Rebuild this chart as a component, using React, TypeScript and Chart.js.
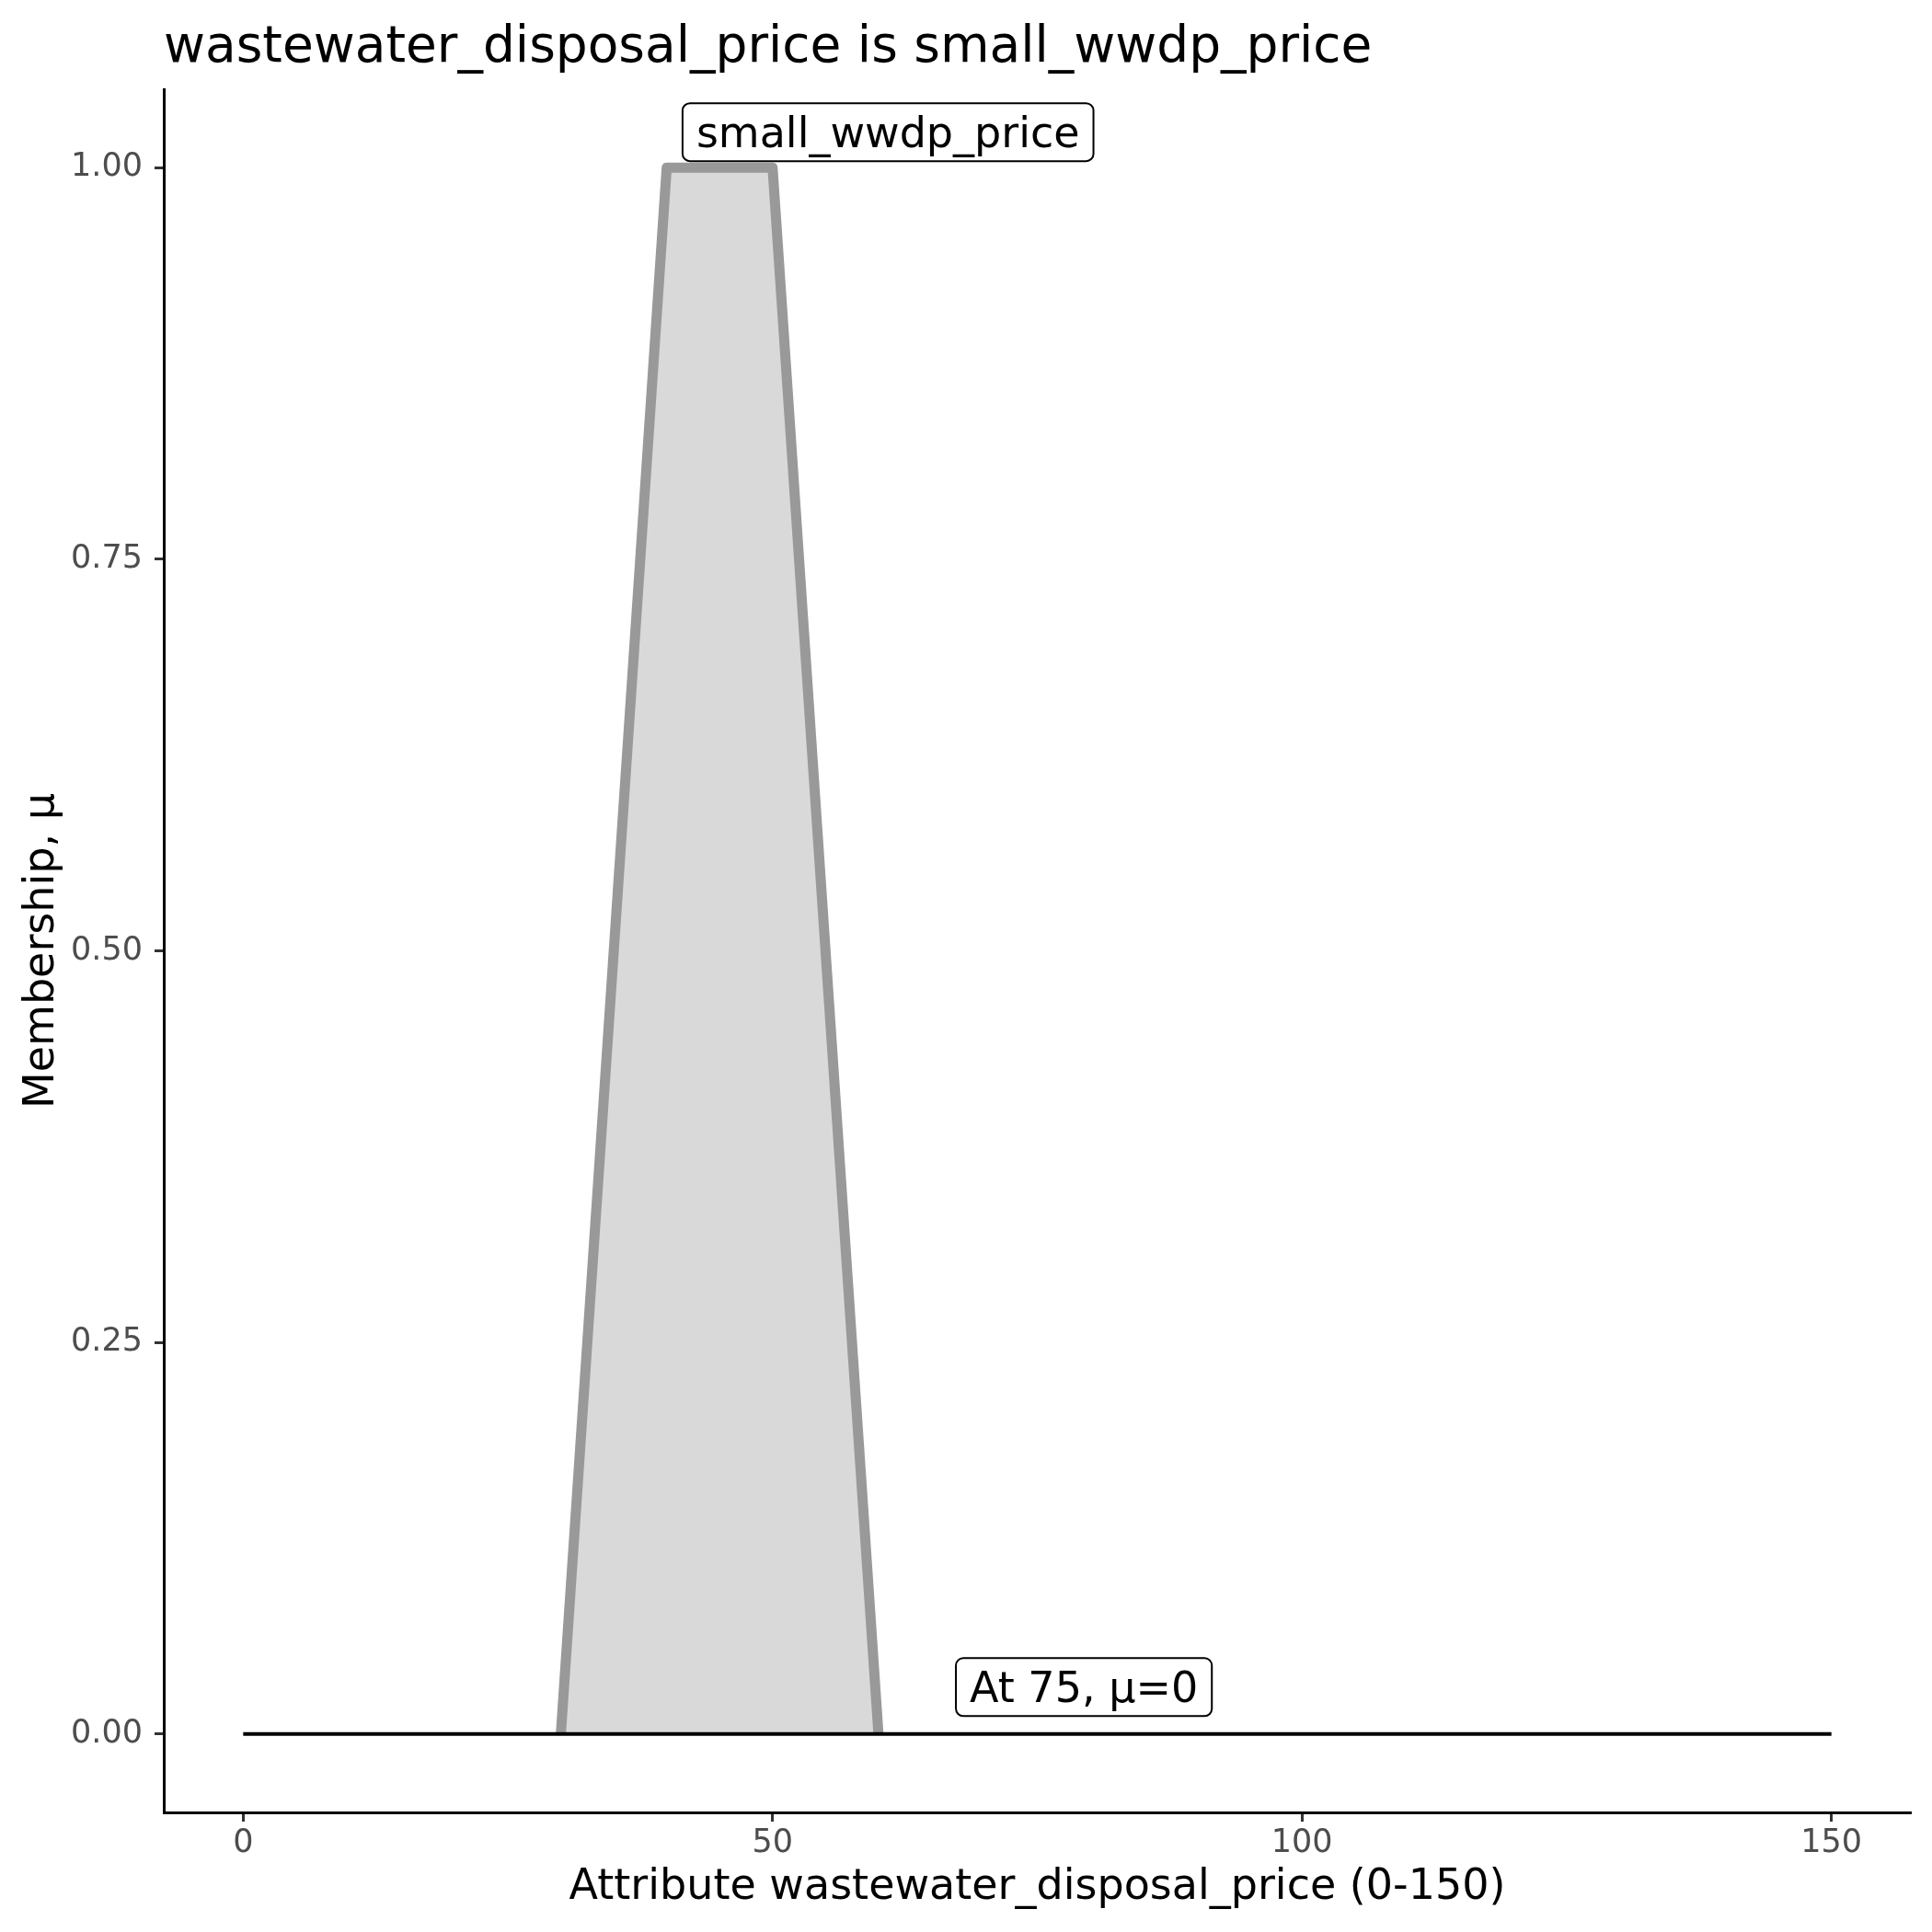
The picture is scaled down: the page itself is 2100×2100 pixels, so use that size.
import React, { useEffect, useRef } from "react";
import { Chart, registerables } from "chart.js";

Chart.register(...registerables);

const FONT = "'DejaVu Sans', sans-serif";

const titleText = "wastewater_disposal_price is small_wwdp_price";
const xTitle = "Attribute wastewater_disposal_price (0-150)";
const yTitle = "Membership, μ";

const memberX = [30, 40, 50, 60];
const memberY = [0, 1, 1, 0];
const baseX = [0, 150];
const baseY = [0, 0];
const xTicks = [0, 50, 100, 150];
const yTicks = [0, 0.25, 0.5, 0.75, 1];
const labelTexts = ["small_wwdp_price", "At 75, μ=0"];
const labelX = [60.9, 79.4];
const labelY = [1.0226, 0.03];

const labelPlugin = {
  id: "boxLabels",
  afterDatasetsDraw(chart: any) {
    const ctx = chart.ctx;
    const xs = chart.scales.x;
    const ys = chart.scales.y;
    ctx.save();
    ctx.font = `46px ${FONT}`;
    labelTexts.forEach((t, i) => {
      const cx = xs.getPixelForValue(labelX[i]);
      const cy = ys.getPixelForValue(labelY[i]);
      const tw = ctx.measureText(t).width;
      const pad = 15;
      const w = tw + pad * 2;
      const h = 63;
      const left = cx - w / 2;
      const top = cy - h / 2;
      ctx.beginPath();
      ctx.roundRect(left, top, w, h, 8);
      ctx.fillStyle = "#ffffff";
      ctx.fill();
      ctx.lineWidth = 2;
      ctx.strokeStyle = "#000000";
      ctx.stroke();
      ctx.fillStyle = "#000000";
      ctx.textAlign = "left";
      ctx.textBaseline = "alphabetic";
      ctx.fillText(t, left + pad, top + h - 15);
    });
    ctx.restore();
  },
};

export default function App() {
  const ref = useRef<HTMLCanvasElement | null>(null);
  useEffect(() => {
    if (!ref.current) return;
    const chart = new Chart(ref.current, {
      type: "line",
      data: {
        datasets: [
          {
            label: "base",
            data: baseX.map((x, i) => ({ x, y: baseY[i] })),
            borderColor: "#000000",
            borderWidth: 4,
            pointRadius: 0,
            fill: false,
            order: 0,
          },
          {
            label: "small_wwdp_price",
            data: memberX.map((x, i) => ({ x, y: memberY[i] })),
            borderColor: "#999999",
            backgroundColor: "#d9d9d9",
            borderWidth: 11,
            borderJoinStyle: "round",
            pointRadius: 0,
            fill: "origin",
            order: 1,
          },
        ],
      },
      options: {
        responsive: false,
        animation: false,
        devicePixelRatio: 1,
        layout: { padding: { top: 0, left: 0, right: 23, bottom: 0 } },
        plugins: {
          legend: { display: false },
          tooltip: { enabled: false },
          title: {
            display: true,
            text: titleText,
            align: "start",
            fullSize: false,
            color: "#000000",
            font: { family: FONT, size: 55, weight: "normal", lineHeight: 1.2 },
            padding: { top: 20, bottom: 11 },
          },
        },
        scales: {
          x: {
            type: "linear",
            min: -7.5,
            max: 157.5,
            afterBuildTicks: (s: any) => {
              s.ticks = xTicks.map((v) => ({ value: v }));
            },
            afterFit: (s: any) => {
              s.height = 130;
            },
            ticks: {
              color: "#4d4d4d",
              font: { family: FONT, size: 35, lineHeight: 1.2 },
              padding: 3,
              maxRotation: 0,
              autoSkip: false,
            },
            grid: {
              display: true,
              drawOnChartArea: false,
              drawTicks: true,
              tickLength: 10,
              tickWidth: 3,
              tickColor: "#333333",
              color: "#333333",
            },
            border: { display: true, color: "#000000", width: 3 },
            title: {
              display: true,
              text: xTitle,
              color: "#000000",
              font: { family: FONT, size: 46, lineHeight: 1.2 },
              padding: { top: 0, bottom: 20 },
            },
          },
          y: {
            type: "linear",
            min: -0.05,
            max: 1.05,
            afterBuildTicks: (s: any) => {
              s.ticks = yTicks.map((v) => ({ value: v }));
            },
            afterFit: (s: any) => {
              s.width = 178;
            },
            ticks: {
              color: "#4d4d4d",
              font: { family: FONT, size: 35, lineHeight: 1.2 },
              padding: 13,
              autoSkip: false,
              callback: (v: any) => Number(v).toFixed(2),
            },
            grid: {
              display: true,
              drawOnChartArea: false,
              drawTicks: true,
              tickLength: 10,
              tickWidth: 3,
              tickColor: "#333333",
              color: "#333333",
            },
            border: { display: true, color: "#000000", width: 3 },
            title: {
              display: true,
              text: yTitle,
              color: "#000000",
              font: { family: FONT, size: 46, lineHeight: 1.2 },
              padding: { top: 18, bottom: 0 },
            },
          },
        },
      },
      plugins: [labelPlugin],
    } as any);
    return () => chart.destroy();
  }, []);
  return (
    <div style={{ position: "absolute", left: 0, top: 0, width: 2100, height: 2100, background: "#ffffff" }}>
      <canvas ref={ref} width={2100} height={2100} style={{ width: 2100, height: 2100, display: "block" }} />
    </div>
  );
}
